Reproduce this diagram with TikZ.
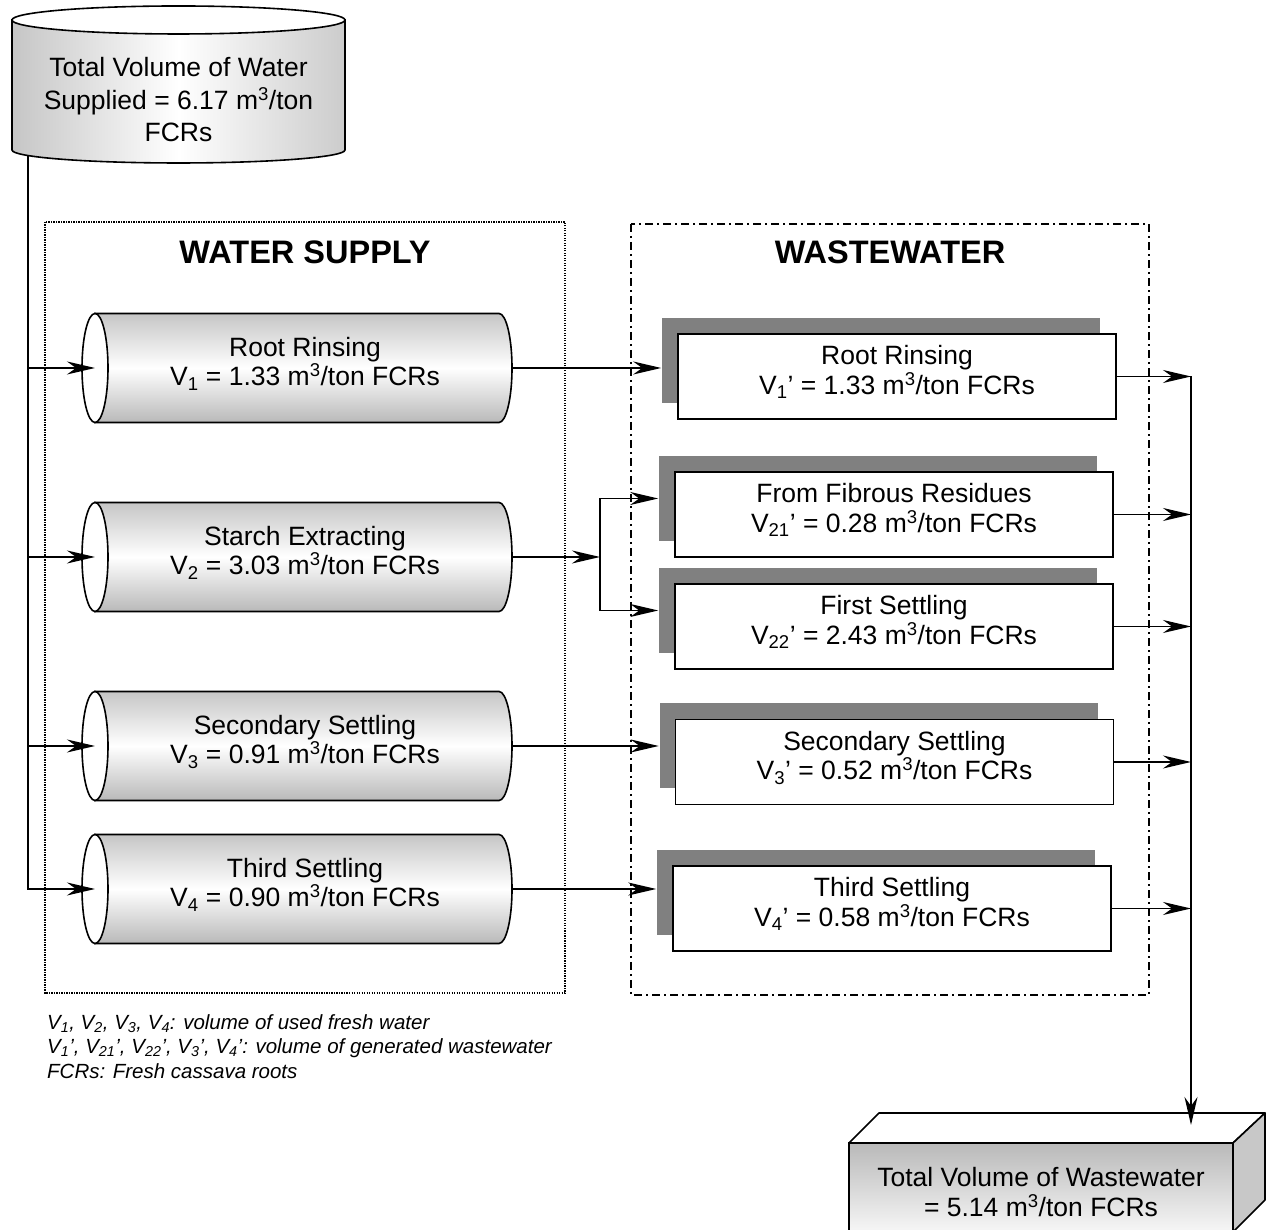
\documentclass[tikz,border=0pt]{standalone}
\usepackage{fontspec}
\setmainfont{Liberation Sans}
\usetikzlibrary{arrows.meta,shadows,calc}

\definecolor{shadowgray}{RGB}{128,128,128}
\definecolor{sidegray}{RGB}{200,200,200}

\tikzset{
  plain/.style={line width=1.6pt},
  conn/.style={line width=1.6pt, -{Stealth[length=28pt,width=13pt,inset=9pt]}},
  bodytext/.style={font=\fontsize{26.5}{29.5}\selectfont, align=center, inner sep=0pt},
  lifted/.style={execute at end node={\rule[-13pt]{0pt}{0pt}}},
  headtext/.style={font=\fontsize{32.5}{36}\selectfont\bfseries, inner sep=0pt},
  notetext/.style={font=\fontsize{20.5}{24.5}\selectfont\itshape, align=left, inner sep=0pt},
  cylshade/.style={top color=gray!45, bottom color=gray!55, middle color=white, line width=1.6pt},
  topshade/.style={left color=gray!45, right color=gray!40, middle color=white, line width=1.6pt},
  wwbox/.style={bodytext, lifted, draw, line width=1.6pt, fill=white,
    minimum width=438pt, minimum height=85pt,
    general shadow={fill=shadowgray, shadow xshift=-16pt, shadow yshift=16pt}},
  dotbox/.style={line width=1.5pt, dash pattern=on 1.2pt off 1.3pt},
  dashdotbox/.style={line width=1.5pt, dash pattern=on 8pt off 4pt on 2pt off 4pt},
}

% horizontal supply cylinder: name, centre height, label
\newcommand\hcylinder[3]{%
  \shadedraw[cylshade] (95,#2+54.5) -- (499,#2+54.5)
     arc[start angle=90, end angle=-90, x radius=13pt, y radius=54.5pt]
     -- (95,#2-54.5) -- cycle;
  \filldraw[fill=white, line width=1.6pt] (95,#2) ellipse[x radius=13pt, y radius=54.5pt];
  \node[bodytext, lifted] (#1) at (305,#2) {#3};
  \coordinate (#1in) at (95,#2);
  \coordinate (#1out) at (512,#2);
}

\begin{document}
\begin{tikzpicture}[x=1pt, y=1pt]
\fill[white] (0,0) rectangle (1268,1230);
\useasboundingbox (0,0) rectangle (1268,1230);

% group frames
\draw[dotbox] (45,1008) rectangle (565,237);
\draw[dashdotbox] (631,1006) rectangle (1149,235);
\node[headtext, anchor=base] (wshead) at (305,966) {WATER SUPPLY};
\node[headtext, anchor=base] (wwhead) at (890,966) {WASTEWATER};

% source tank
\shadedraw[topshade] (12,1210) -- (12,1080)
   arc[start angle=180, end angle=360, x radius=166.5pt, y radius=13pt]
   -- (345,1210) -- cycle;
\filldraw[fill=white, line width=1.6pt] (178.5,1210) ellipse[x radius=166.5pt, y radius=14pt];
\node[bodytext, font=\fontsize{26.5}{32.5}\selectfont] (source) at (178.5,1130)
  {Total Volume of Water\\Supplied = 6.17 m\textsuperscript{3}/ton\\FCRs};
\coordinate (drop) at (28,1074.4);

% supply cylinders
\hcylinder{ws1}{862}{Root Rinsing\\V\textsubscript{1} = 1.33 m\textsuperscript{3}/ton FCRs}
\hcylinder{ws2}{673}{Starch Extracting\\V\textsubscript{2} = 3.03 m\textsuperscript{3}/ton FCRs}
\hcylinder{ws3}{484}{Secondary Settling\\V\textsubscript{3} = 0.91 m\textsuperscript{3}/ton FCRs}
\hcylinder{ws4}{341}{Third Settling\\V\textsubscript{4} = 0.90 m\textsuperscript{3}/ton FCRs}

% wastewater boxes
\node[wwbox] (ww1) at (897,853.5) {Root Rinsing\\V\textsubscript{1}’ = 1.33 m\textsuperscript{3}/ton FCRs};
\node[wwbox] (ww2) at (894,715.5) {From Fibrous Residues\\V\textsubscript{21}’ = 0.28 m\textsuperscript{3}/ton FCRs};
\node[wwbox] (ww3) at (894,603.5) {First Settling\\V\textsubscript{22}’ = 2.43 m\textsuperscript{3}/ton FCRs};
\node[wwbox] (ww4) at (894.5,468) {Secondary Settling\\V\textsubscript{3}’ = 0.52 m\textsuperscript{3}/ton FCRs};
\node[wwbox] (ww5) at (892,321.5) {Third Settling\\V\textsubscript{4}’ = 0.58 m\textsuperscript{3}/ton FCRs};
\foreach \k in {1,...,5}
  \coordinate (ww\k s) at ([shift={(-16pt,16pt)}]ww\k.west);

% collecting block
\fill[top color=gray!55, bottom color=gray!5] (849,-5) rectangle (1233,87);
\draw[plain] (849,-5) -- (849,87) -- (1233,87) -- (1233,-5);
\filldraw[fill=white, line width=1.6pt, line join=round] (849,87) -- (879,117) -- (1265,117) -- (1233,87) -- cycle;
\filldraw[fill=sidegray, line width=1.6pt, line join=round] (1233,87) -- (1265,117) -- (1265,30) -- (1233,-2) -- cycle;
\node[bodytext] (total) at (1041,38) {Total Volume of Wastewater\\= 5.14 m\textsuperscript{3}/ton FCRs};
\coordinate (sinkin) at (1191,105);

% supply distribution
\draw[conn] (drop) |- (ws4in);
\foreach \k in {1,2,3}
  \draw[conn] (drop |- ws\k in) -- (ws\k in);

% supply to wastewater
\draw[conn] (ws1out) -- (ws1out -| ww1s);
\coordinate (split) at (600,673);
\draw[conn] (ws2out) -- (split);
\draw[conn] (split) |- (ww2s);
\draw[conn] (split) |- (ww3s);
\draw[conn] (ws3out) -- (ws3out -| ww4s);
\draw[conn] (ws4out) -- (ws4out -| ww5s);

% wastewater collection
\foreach \k in {1,...,5}
  \draw[conn] (ww\k.east) -- (ww\k.east -| sinkin);
\draw[conn] (ww1.east -| sinkin) -- (sinkin);

% legend
\node[notetext, anchor=north west] (note) at (47,216)
  {V\textsubscript{1}, V\textsubscript{2}, V\textsubscript{3}, V\textsubscript{4}: volume of used fresh water\\
   V\textsubscript{1}', V\textsubscript{21}', V\textsubscript{22}', V\textsubscript{3}', V\textsubscript{4}': volume of generated wastewater\\
   FCRs: Fresh cassava roots};
\end{tikzpicture}
\end{document}
